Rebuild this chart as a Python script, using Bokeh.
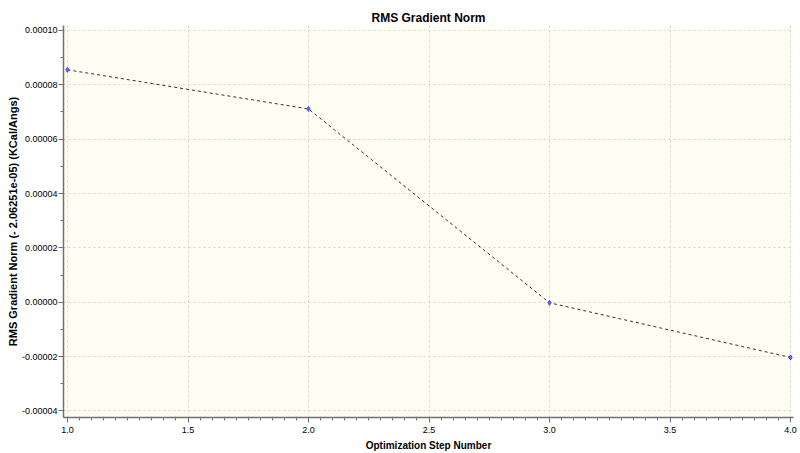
from bokeh.plotting import figure
from bokeh.models import Range1d, PrintfTickFormatter, SingleIntervalTicker
from bokeh.embed import file_html
from bokeh.resources import INLINE

steps = [1.0, 2.0, 3.0, 4.0]
rms_grad = [0.0000855, 0.0000711, -0.0000002, -0.0000203]

FONT = "Liberation Sans"

p = figure(width=800, height=453, output_backend="svg", toolbar_location=None,
           x_range=Range1d(0.9834, 4.0124), y_range=Range1d(-0.0000424, 0.0001018),
           min_border_left=63, min_border_right=7, min_border_top=25, min_border_bottom=32,
           background_fill_color="#fefef3", border_fill_color="white")

p.outline_line_color = None

p.title.text = "RMS Gradient Norm"
p.title.align = "center"
p.title.text_font = FONT
p.title.text_font_size = "12px"
p.title.text_font_style = "bold"
p.title.text_color = "black"
p.title.standoff = 1
p.title.offset = 0

p.xaxis.axis_label = "Optimization Step Number"
p.yaxis.axis_label = "RMS Gradient Norm (- 2.06251e-05) (KCal/Angs)"

p.xaxis.ticker = SingleIntervalTicker(interval=0.5, num_minor_ticks=10)
p.yaxis.ticker = SingleIntervalTicker(interval=0.00002, num_minor_ticks=2)
p.xaxis.formatter = PrintfTickFormatter(format="%.1f")
p.yaxis.formatter = PrintfTickFormatter(format="%.5f")

for ax in (p.xaxis, p.yaxis):
    ax.axis_label_text_font = FONT
    ax.axis_label_text_font_size = "10px"
    ax.axis_label_text_font_style = "bold"
    ax.axis_label_text_color = "black"
    ax.major_label_text_font = FONT
    ax.major_label_text_font_size = "9px"
    ax.major_label_text_color = "black"
    ax.axis_line_color = "#707070"
    ax.axis_line_width = 1.5
    ax.major_tick_line_color = "#707070"
    ax.minor_tick_line_color = "#707070"
    ax.major_tick_in = 0
    ax.major_tick_out = 5
    ax.minor_tick_in = 0
    ax.minor_tick_out = 3

p.yaxis.axis_label_text_font_size = "11px"
p.yaxis.major_label_standoff = 1
p.yaxis.axis_label_standoff = 0
p.xaxis.major_label_standoff = 4
p.xaxis.axis_label_standoff = 4

p.grid.grid_line_color = "#d2d2d2"
p.grid.grid_line_dash = "2 3"
p.grid.grid_line_width = 1

p.line(steps, rms_grad, line_color="#303030", line_dash="3 3", line_width=1)
p.scatter(steps, rms_grad, marker="diamond", size=5, fill_color="#7070ff",
          line_color="#4040ee", line_width=1)

open("out.html", "w").write(file_html(p, INLINE))
